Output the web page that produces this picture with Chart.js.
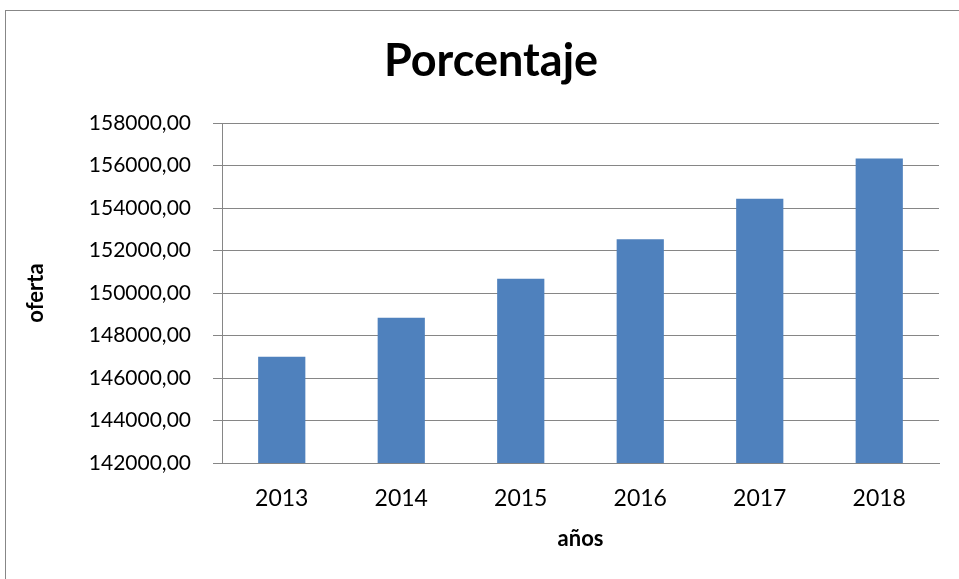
<!DOCTYPE html>
<html>
<head>
<meta charset="utf-8">
<script src="https://cdn.jsdelivr.net/npm/chart.js@4"></script>
<style>
  body { margin: 0; background: #fff; }
  #wrap { width: 959px; height: 579px; }
</style>
</head>
<body>
<div id="wrap"><canvas id="chart" width="959" height="579"></canvas></div>
<script>
// datos del grafico
const years = ['2013', '2014', '2015', '2016', '2017', '2018'];
const oferta = [147000, 148830, 150670, 152530, 154430, 156330];
const yMin = 142000;
const yMax = 158000;
const yStep = 2000;

// marco exterior del grafico
const frame = {
  id: 'frame',
  beforeDraw(chart) {
    const ctx = chart.ctx;
    ctx.save();
    ctx.strokeStyle = '#878787';
    ctx.lineWidth = 1;
    ctx.strokeRect(5.5, 10.5, 1000, 1000);
    ctx.restore();
  }
};

const font = 'Lato, "Open Sans", sans-serif';
const padLeft = 43;

new Chart(document.getElementById('chart').getContext('2d'), {
  type: 'bar',
  data: {
    labels: years,
    datasets: [{
      label: 'oferta',
      data: oferta,
      backgroundColor: '#4F81BD',
      barPercentage: 0.79,
      categoryPercentage: 0.5
    }]
  },
  options: {
    responsive: false,
    animation: false,
    layout: { padding: { left: padLeft, right: 20, top: 4, bottom: 0 } },
    plugins: {
      legend: { display: false },
      tooltip: { enabled: false },
      title: {
        display: true,
        text: 'Porcentaje',
        color: '#000',
        font: { family: font, size: 45, weight: 'bold', lineHeight: 1.2 },
        padding: { top: 30, bottom: 35 }
      }
    },
    scales: {
      x: {
        grid: { display: false, drawTicks: false },
        border: { color: '#868686', width: 1 },
        ticks: { color: '#000', padding: 22, font: { family: font, size: 23 } },
        title: {
          display: true,
          text: 'años',
          color: '#000',
          font: { family: font, size: 22, weight: 'bold', lineHeight: 1.2 },
          padding: { top: 0, bottom: 27 }
        },
        afterFit(scale) { scale.height = 579 - 463; }
      },
      y: {
        min: yMin,
        max: yMax,
        grid: { color: '#868686', tickLength: 9, tickColor: '#868686' },
        border: { color: '#868686', width: 1 },
        ticks: {
          stepSize: yStep,
          color: '#000',
          padding: 22,
          font: { family: font, size: 21 },
          callback: v => v.toFixed(2).replace('.', ',')
        },
        title: {
          display: true,
          text: 'oferta',
          color: '#000',
          font: { family: font, size: 22, weight: 'bold', lineHeight: 1.2 },
          padding: { top: 36 - padLeft - 13.2, bottom: 0 }
        },
        afterFit(scale) { scale.width = 222 - padLeft; }
      }
    }
  },
  plugins: [frame]
});
</script>
</body>
</html>
